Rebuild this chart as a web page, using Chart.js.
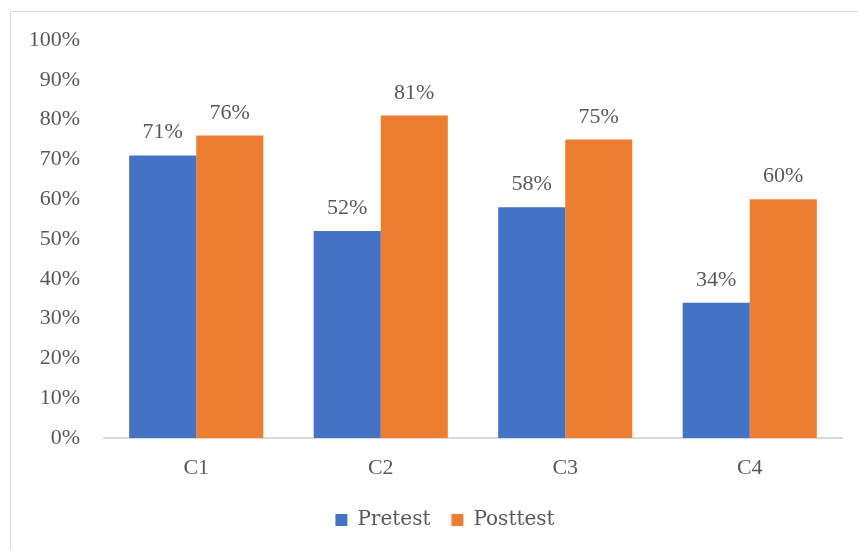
<!DOCTYPE html>
<html>
<head>
<meta charset="utf-8">
<script src="https://cdn.jsdelivr.net/npm/chart.js@4/dist/chart.umd.min.js"></script>
<style>
  html, body { margin: 0; padding: 0; background: #fff; }
  body { width: 858px; height: 550px; position: relative; overflow: hidden; }
  .frame { position: absolute; left: 10px; top: 11px; width: 900px; height: 600px; border: 1px solid #d9d9d9; }
  .wrap { position: absolute; left: 0; top: 0; width: 858px; height: 550px; }
</style>
</head>
<body>
<div class="frame"></div>
<div class="wrap"><canvas id="barChart"></canvas></div>
<script>
const categories = ['C1', 'C2', 'C3', 'C4'];
const pretest = [71, 52, 58, 34];
const posttest = [76, 81, 75, 60];
const yTicks = [0, 10, 20, 30, 40, 50, 60, 70, 80, 90, 100];

const textColor = '#595959';
const serif = "'Liberation Serif', 'Times New Roman', serif";

// draws the % value above each bar
const valueLabels = {
    id: 'valueLabels',
    afterDatasetsDraw(chart) {
        const ctx = chart.ctx;
        ctx.save();
        ctx.font = '22px ' + serif;
        ctx.fillStyle = textColor;
        ctx.textAlign = 'center';
        ctx.textBaseline = 'alphabetic';
        chart.data.datasets.forEach((ds, i) => {
            chart.getDatasetMeta(i).data.forEach((bar, j) => {
                ctx.fillText(ds.data[j] + '%', bar.x, bar.y - 17);
            });
        });
        ctx.restore();
    }
};

// nudge legend right a bit, like the original
const legendShift = {
    id: 'legendShift',
    afterLayout(chart) {
        chart.legend.left += 24;
        chart.legend.right += 24;
    }
};

const ctxBar = document.getElementById('barChart').getContext('2d');
new Chart(ctxBar, {
    type: 'bar',
    data: {
        labels: categories,
        datasets: [{
            label: 'Pretest',
            data: pretest,
            backgroundColor: '#4472C4',
            borderWidth: 0
        }, {
            label: 'Posttest',
            data: posttest,
            backgroundColor: '#ED7D31',
            borderWidth: 0
        }]
    },
    options: {
        responsive: true,
        maintainAspectRatio: false,
        animation: false,
        layout: {
            padding: { left: 0, right: 16, top: 40, bottom: 10 }
        },
        datasets: {
            bar: { categoryPercentage: 0.727, barPercentage: 1.0 }
        },
        scales: {
            x: {
                afterFit(scale) { scale.height = 51; },
                grid: { display: false, drawTicks: false },
                border: { color: '#d9d9d9', width: 2 },
                ticks: { color: textColor, font: { family: serif, size: 22 }, padding: 17 }
            },
            y: {
                min: 0,
                max: 100,
                afterBuildTicks(scale) {
                    scale.ticks = yTicks.map(v => ({ value: v }));
                },
                afterFit(scale) { scale.width = 104; },
                grid: { display: false, drawTicks: false },
                border: { display: false },
                ticks: {
                    color: textColor,
                    font: { family: serif, size: 22 },
                    padding: 24,
                    callback: v => v + '%'
                }
            }
        },
        plugins: {
            legend: {
                position: 'bottom',
                labels: {
                    color: textColor,
                    font: { family: "'DejaVu Serif', serif", size: 20 },
                    boxWidth: 12,
                    boxHeight: 12,
                    padding: 21
                }
            },
            tooltip: { enabled: false }
        }
    },
    plugins: [valueLabels, legendShift]
});
</script>
</body>
</html>
